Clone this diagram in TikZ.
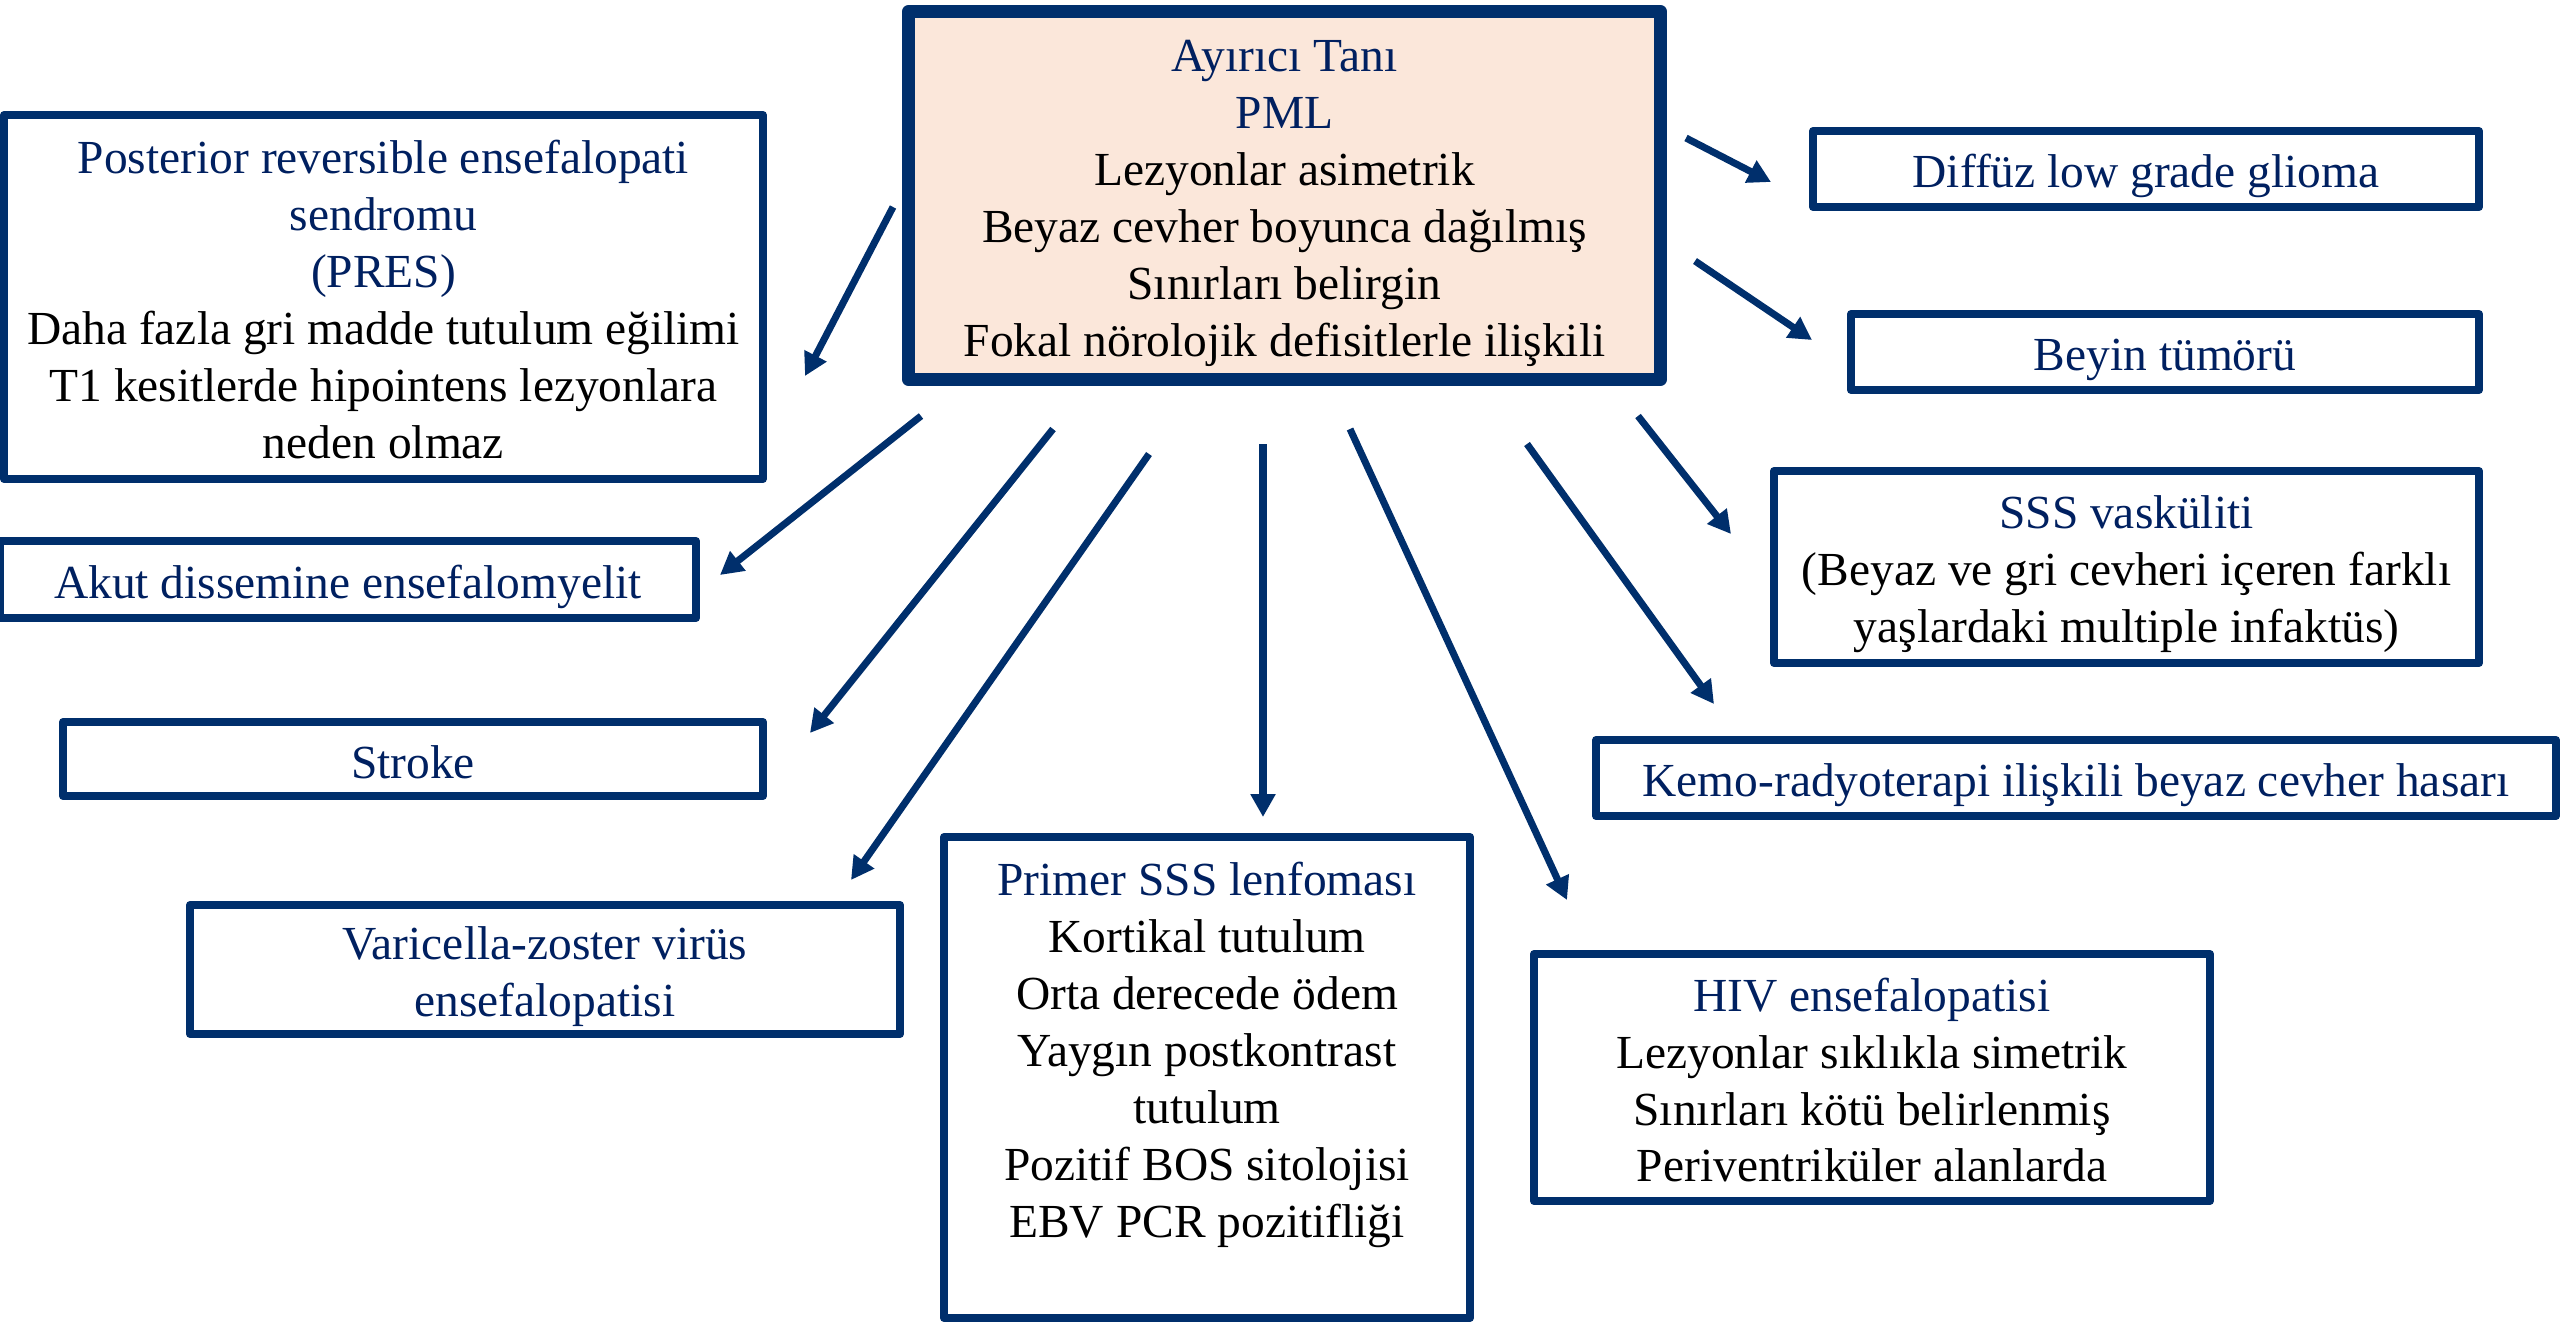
\documentclass[tikz,border=0pt]{standalone}
\usepackage{fontspec}
\setmainfont{Liberation Serif}
\usetikzlibrary{arrows.meta}
\definecolor{navy}{RGB}{0,47,108}
\definecolor{titleblue}{RGB}{0,32,96}
\definecolor{peach}{RGB}{251,231,218}
\newcommand{\ttl}[1]{\textcolor{titleblue}{#1}}
\newcommand{\mytop}{\rule{0pt}{27pt}}
\newcommand{\mybot}{\rule[-5.35pt]{0pt}{5.35pt}}
\tikzset{
  box/.style={draw=navy, line width=4.55pt, line join=round, rectangle, inner sep=0pt, align=center,
    font=\fontsize{27}{32.4}\selectfont},
  mainbox/.style={box, line width=7.4pt, fill=peach},
  txt/.style={inner sep=0pt, align=center, font=\fontsize{27}{32.4}\selectfont},
  arr/.style={draw=navy, line width=4pt, -{Triangle[length=13pt,width=13.5pt]}},
}
\begin{document}
\begin{tikzpicture}[x=0.02cm,y=-0.02cm]
\useasboundingbox (0,0) rectangle (2560,1323);
\fill[white] (0,0) rectangle (2560,1323);

\node[mainbox, minimum width=15.04cm, minimum height=7.36cm] (pml) at (1284.5,195.5)
  {\mytop\ttl{Ayırıcı Tanı}\\ \ttl{PML}\\ Lezyonlar asimetrik\\ Beyaz cevher boyunca dağılmış\\ Sınırları belirgin\\ Fokal nörolojik defisitlerle ilişkili\mybot};

\node[box, minimum width=15.18cm, minimum height=7.28cm] (pres) at (383.5,297)
  {\mytop\ttl{Posterior reversible ensefalopati}\\ \ttl{sendromu}\\ \ttl{(PRES)}\\ Daha fazla gri madde tutulum eğilimi\\ T1 kesitlerde hipointens lezyonlara\\ neden olmaz\mybot};

\node[box, minimum width=13.32cm, minimum height=1.52cm] (glioma) at (2146,169)
  {\mytop\ttl{Diffüz low grade glioma}\mybot};
\node[box, minimum width=12.56cm, minimum height=1.52cm] (tumor) at (2165,352)
  {\mytop\ttl{Beyin tümörü}\mybot};
\node[box, minimum width=14.1cm, minimum height=3.84cm] (vask) at (2126.5,567)
  {\mytop\ttl{SSS vasküliti}\\ (Beyaz ve gri cevheri içeren farklı\\ yaşlardaki multiple infaktüs)\mybot};
\node[box, minimum width=19.2cm, minimum height=1.52cm] (kemo) at (2076,778)
  {\mytop\ttl{Kemo-radyoterapi ilişkili beyaz cevher hasarı}\mybot};
\node[box, minimum width=13.92cm, minimum height=1.54cm] (akut) at (348,579.5)
  {\mytop\ttl{Akut dissemine ensefalomyelit}\mybot};
\node[box, minimum width=14cm, minimum height=1.48cm] (stroke) at (413,759)
  {\mytop\ttl{Stroke}\mybot};
\node[box, minimum width=14.2cm, minimum height=2.58cm] (vzv) at (545,969.5)
  {\mytop\ttl{Varicella-zoster virüs}\\ \ttl{ensefalopatisi}\mybot};
\node[box, minimum width=10.52cm, minimum height=9.62cm] (primer) at (1207,1077.5) {};
\node[txt] (primertxt) at (1207,1055)
  {\ttl{Primer SSS lenfoması}\\ Kortikal tutulum\\ Orta derecede ödem\\ Yaygın postkontrast\\ tutulum\\ Pozitif BOS sitolojisi\\ EBV PCR pozitifliği};
\node[box, minimum width=13.52cm, minimum height=4.94cm] (hiv) at (1872,1077.5)
  {\mytop\ttl{HIV ensefalopatisi}\\ Lezyonlar sıklıkla simetrik\\ Sınırları kötü belirlenmiş\\ Periventriküler alanlarda\mybot};

% arrow end points
\coordinate (s1) at (893,207);  \coordinate (e1) at (805,376);
\coordinate (s2) at (921,416);  \coordinate (e2) at (720,575);
\coordinate (s3) at (1053,429); \coordinate (e3) at (810,733);
\coordinate (s4) at (1149,454); \coordinate (e4) at (851,880);
\coordinate (s5) at (1263,444); \coordinate (e5) at (1263,817);
\coordinate (s6) at (1350,429); \coordinate (e6) at (1567,900);
\coordinate (s7) at (1527,444); \coordinate (e7) at (1714,704);
\coordinate (s8) at (1638,416); \coordinate (e8) at (1731,534);
\coordinate (s9) at (1695,261); \coordinate (e9) at (1812,340);
\coordinate (s10) at (1686,138); \coordinate (e10) at (1771,182);

\draw[arr] (s1) -- (e1);
\draw[arr] (s2) -- (e2);
\draw[arr] (s3) -- (e3);
\draw[arr] (s4) -- (e4);
\draw[arr] (s5) -- (e5);
\draw[arr] (s6) -- (e6);
\draw[arr] (s7) -- (e7);
\draw[arr] (s8) -- (e8);
\draw[arr] (s9) -- (e9);
\draw[arr] (s10) -- (e10);
\end{tikzpicture}
\end{document}
